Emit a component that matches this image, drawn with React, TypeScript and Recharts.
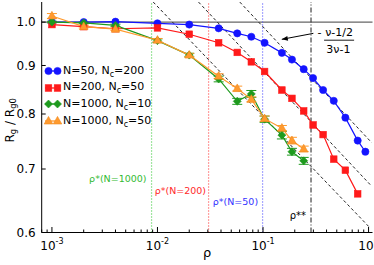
import React from 'react';
import {
  ComposedChart,
  Line,
  XAxis,
  YAxis,
  ReferenceLine,
  ReferenceDot,
  ErrorBar,
  Legend,
  Label,
} from 'recharts';

const FONT = '"DejaVu Sans", sans-serif';

// ---------- data ----------
const RHO_BLUE = [0.001, 0.002, 0.004, 0.01, 0.02, 0.038, 0.057, 0.0775, 0.1035, 0.151, 0.188, 0.243, 0.298, 0.371, 0.468, 0.603, 0.789, 0.933];
const RG_BLUE = [1.0, 1.0, 1.001, 0.997, 0.994, 0.985, 0.973, 0.965, 0.951, 0.928, 0.913, 0.892, 0.873, 0.848, 0.826, 0.793, 0.75, 0.73];

const RHO_RED = [0.001, 0.002, 0.004, 0.01, 0.02, 0.038, 0.057, 0.0775, 0.1035, 0.151, 0.188, 0.243, 0.298, 0.371, 0.468, 0.603, 0.789];
const RG_RED = [0.994, 0.989, 0.984, 0.986, 0.971, 0.951, 0.929, 0.908, 0.887, 0.848, 0.831, 0.806, 0.779, 0.761, 0.717, 0.698, 0.659];

const RHO_GREEN = [0.001, 0.002, 0.004, 0.01, 0.02, 0.038, 0.057, 0.0775, 0.1035, 0.151, 0.188, 0.243];
const RG_GREEN = [1.0, 0.998, 0.992, 0.956, 0.923, 0.871, 0.825, 0.84, 0.79, 0.76, 0.73, 0.714];
const ERR_GREEN = [0.002, 0.002, 0.003, 0.004, 0.004, 0.006, 0.006, 0.007, 0.006, 0.007, 0.006, 0.006];

const RHO_ORANGE = [0.001, 0.002, 0.004, 0.01, 0.02, 0.038, 0.057, 0.0775, 0.1035, 0.151, 0.188, 0.243];
const RG_ORANGE = [1.015, 0.989, 0.983, 0.957, 0.923, 0.877, 0.851, 0.829, 0.791, 0.773, 0.75, 0.735];
const ERR_ORANGE = [0.006, 0.003, 0.003, 0.004, 0.004, 0.005, 0.005, 0.005, 0.005, 0.005, 0.006, 0.005];

// crossover densities (vertical markers)
const RHO_STAR_1000 = 0.00879;
const RHO_STAR_200 = 0.0305;
const RHO_STAR_50 = 0.0991;
const RHO_STARSTAR = 0.285;

// power-law guide lines  (slope -(nu-1/2)/(3nu-1))
const GUIDE_A = [{ x: 0.00912, y: 1.0498 }, { x: 1.04, y: 0.6063 }];
const GUIDE_B = [{ x: 0.0245, y: 1.0498 }, { x: 1.07, y: 0.6714 }];
const GUIDE_C = [{ x: 0.0603, y: 1.0498 }, { x: 1.07, y: 0.7463 }];

// annotation anchors
const ARROW = [{ x: 0.3, y: 0.973 }, { x: 0.1507, y: 0.959 }];
const FRACTION_AT = { x: 0.526, y: 0.957 };

const X_DOMAIN = [0.0008, 1.09];
const Y_DOMAIN = [0.6, 1.05];
const X_DECADES = [0.0001, 0.001, 0.01, 0.1];
const MULTS = [1, 2, 3, 4, 5, 6, 7, 8, 9];
const Y_TICKS = [0.6, 0.7, 0.8, 0.9, 1.0];

const X_TICKS: number[] = [];
X_DECADES.forEach((d) =>
  MULTS.forEach((m) => {
    const v = +(d * m).toPrecision(6);
    if (v >= X_DOMAIN[0] && v <= X_DOMAIN[1]) X_TICKS.push(v);
  })
);
X_TICKS.push(1);

const mk = (xs: number[], ys: number[], es?: number[]) =>
  xs.map((x, i) => ({ x, y: ys[i], e: es ? es[i] : 0 }));

type Shape = 'circle' | 'square' | 'diamond' | 'triangle';

const SERIES: {
  key: string;
  pre: string;
  sub: string;
  post: string;
  color: string;
  edge: string;
  shape: Shape;
  data: { x: number; y: number; e: number }[];
  err: boolean;
}[] = [
  { key: 'b', pre: 'N=50, N', sub: 'c', post: '=200', color: '#1414ff', edge: '#1414ff', shape: 'circle', data: mk(RHO_BLUE, RG_BLUE), err: false },
  { key: 'r', pre: 'N=200, N', sub: 'c', post: '=50', color: '#ff1a1a', edge: '#ff1a1a', shape: 'square', data: mk(RHO_RED, RG_RED), err: false },
  { key: 'g', pre: 'N=1000, N', sub: 'c', post: '=10', color: '#1e9a1e', edge: '#1e9a1e', shape: 'diamond', data: mk(RHO_GREEN, RG_GREEN, ERR_GREEN), err: true },
  { key: 'o', pre: 'N=1000, N', sub: 'c', post: '=50', color: '#ff9a2e', edge: '#f08a1e', shape: 'triangle', data: mk(RHO_ORANGE, RG_ORANGE, ERR_ORANGE), err: true },
];

const marker = (shape: Shape, cx: number, cy: number, fill: string, edge: string) => {
  switch (shape) {
    case 'circle':
      return <circle cx={cx} cy={cy} r={3.6} fill={fill} stroke={edge} strokeWidth={0.6} />;
    case 'square':
      return <rect x={cx - 3.3} y={cy - 3.3} width={6.6} height={6.6} fill={fill} stroke={edge} strokeWidth={0.6} />;
    case 'diamond':
      return (
        <polygon
          points={`${cx},${cy - 4} ${cx + 4},${cy} ${cx},${cy + 4} ${cx - 4},${cy}`}
          fill={fill}
          stroke={edge}
          strokeWidth={0.6}
        />
      );
    default:
      return (
        <polygon
          points={`${cx},${cy - 4.6} ${cx + 4.3},${cy + 3} ${cx - 4.3},${cy + 3}`}
          fill={fill}
          stroke={edge}
          strokeWidth={0.6}
        />
      );
  }
};

const isMajor = (v: number) => {
  const l = Math.log10(v);
  return Math.abs(l - Math.round(l)) < 1e-6;
};

const BottomTick = (props: any) => {
  const { x, y, payload } = props;
  const v = payload.value;
  const major = isMajor(v);
  const e = Math.round(Math.log10(v));
  return (
    <g>
      <line x1={x} x2={x} y1={y} y2={y - (major ? 5.5 : 3)} stroke="#000" strokeWidth={1} />
      {major && (
        <text x={x} y={y + 17.5} textAnchor="middle" fontSize={12} fontFamily={FONT} fill="#000">
          10
          <tspan dy={-6} fontSize={8}>
            {e === 0 ? '0' : `-${Math.abs(e)}`}
          </tspan>
        </text>
      )}
    </g>
  );
};

const TopTick = (props: any) => {
  const { x, y, payload } = props;
  const major = isMajor(payload.value);
  return <line x1={x} x2={x} y1={y} y2={y + (major ? 5.5 : 3)} stroke="#000" strokeWidth={1} />;
};

const LeftTick = (props: any) => {
  const { x, y, payload } = props;
  return (
    <g>
      <line x1={x} x2={x + 4} y1={y} y2={y} stroke="#000" strokeWidth={1} />
      <text x={x - 6} y={y + 4.4} textAnchor="end" fontSize={12} fontFamily={FONT} fill="#000">
        {Number(payload.value).toFixed(1)}
      </text>
    </g>
  );
};

const RightTick = (props: any) => {
  const { x, y } = props;
  return <line x1={x} x2={x - 4} y1={y} y2={y} stroke="#000" strokeWidth={1} />;
};

const textAt = (txt: string, color: string, size: number, dx: number) => (p: any) =>
  (
    <text x={p.cx + dx} y={p.cy} textAnchor="end" fontSize={size} fontFamily={FONT} fill={color}>
      {txt}
    </text>
  );

const Fraction = (p: any) => {
  const { cx, cy } = p;
  return (
    <g fontFamily={FONT} fill="#000">
      <text x={cx - 19.7} y={cy - 4.2} textAnchor="middle" fontSize={11}>
        -
      </text>
      <text x={cx} y={cy - 4.5} textAnchor="middle" fontSize={11}>
        ν-1/2
      </text>
      <line x1={cx - 15} x2={cx + 15} y1={cy} y2={cy} stroke="#000" strokeWidth={0.9} />
      <text x={cx - 0.7} y={cy + 12.5} textAnchor="middle" fontSize={11}>
        3ν-1
      </text>
    </g>
  );
};

const ArrowHead = (p: any) => {
  const { cx, cy } = p;
  const dx = 0.984;
  const dy = -0.178;
  const L = 6;
  const W = 2.4;
  const bx = cx + dx * L;
  const by = cy + dy * L;
  const px = -dy;
  const py = dx;
  return (
    <polygon
      points={`${cx},${cy} ${bx + px * W},${by + py * W} ${bx - px * W},${by - py * W}`}
      fill="#000"
    />
  );
};

const LegendContent = () => (
  <div style={{ fontFamily: FONT, fontSize: 11, color: '#000' }}>
    {SERIES.map((s) => (
      <div key={s.key} style={{ display: 'flex', alignItems: 'center', height: 16.67, lineHeight: '16.67px', whiteSpace: 'nowrap' }}>
        <svg width={20} height={16} style={{ display: 'block' }}>
          <line x1={2} x2={17} y1={8} y2={8} stroke={s.color} strokeWidth={1.3} />
          {marker(s.shape, 5.5, 8, s.color, s.edge)}
          {marker(s.shape, 14.5, 8, s.color, s.edge)}
        </svg>
        <span>
          {s.pre}
          <sub style={{ fontSize: 8, verticalAlign: -3, lineHeight: 0 }}>{s.sub}</sub>
          {s.post}
        </span>
      </div>
    ))}
  </div>
);

const YLab = (p: any) => {
  const vb = p.viewBox || { x: 0, y: 0, width: 0, height: 0 };
  const cx = vb.x + 10;
  const cy = vb.y + vb.height / 2 + 3;
  return (
    <text
      x={cx}
      y={cy}
      transform={`rotate(-90 ${cx} ${cy})`}
      textAnchor="middle"
      fontSize={12}
      fontFamily={FONT}
      fill="#000"
      dominantBaseline="middle"
    >
      R<tspan dy={3} fontSize={8.5}>g</tspan>
      <tspan dy={-3}> / R</tspan>
      <tspan dy={3} fontSize={8.5}>g0</tspan>
    </text>
  );
};

const XLab = (p: any) => {
  const vb = p.viewBox || { x: 0, y: 0, width: 0, height: 0 };
  return (
    <text x={vb.x + vb.width / 2} y={vb.y + 24} textAnchor="middle" fontSize={13} fontFamily={FONT} fill="#000">
      ρ
    </text>
  );
};

export default function App() {
  return (
    <div style={{ position: 'absolute', left: 0, top: 0, width: 374, height: 265, background: '#fff' }}>
      <ComposedChart width={374} height={265} margin={{ top: 2, right: 1.5, bottom: 12.5, left: 0 }}>
        <XAxis
          type="number"
          dataKey="x"
          scale="log"
          domain={X_DOMAIN}
          allowDataOverflow
          ticks={X_TICKS}
          interval={0}
          tick={<BottomTick />}
          tickLine={false}
          tickSize={0}
          tickMargin={0}
          axisLine={{ stroke: '#000', strokeWidth: 1 }}
          height={20}
        >
          <Label content={<XLab />} />
        </XAxis>
        <XAxis
          xAxisId="top"
          orientation="top"
          type="number"
          dataKey="x"
          scale="log"
          domain={X_DOMAIN}
          allowDataOverflow
          ticks={X_TICKS}
          interval={0}
          tick={<TopTick />}
          tickLine={false}
          tickSize={0}
          tickMargin={0}
          axisLine={{ stroke: '#000', strokeWidth: 1 }}
          height={0}
        />
        <YAxis
          type="number"
          dataKey="y"
          scale="log"
          domain={Y_DOMAIN}
          allowDataOverflow
          ticks={Y_TICKS}
          interval={0}
          tick={<LeftTick />}
          tickLine={false}
          tickSize={0}
          tickMargin={0}
          axisLine={{ stroke: '#000', strokeWidth: 1 }}
          width={41.7}
        >
          <Label content={<YLab />} />
        </YAxis>
        <YAxis
          yAxisId="right"
          orientation="right"
          type="number"
          dataKey="y"
          scale="log"
          domain={Y_DOMAIN}
          allowDataOverflow
          ticks={Y_TICKS}
          interval={0}
          tick={<RightTick />}
          tickLine={false}
          tickSize={0}
          tickMargin={0}
          axisLine={{ stroke: '#000', strokeWidth: 1 }}
          width={0}
        />

        <ReferenceLine y={1} stroke="#666" strokeWidth={1.2} ifOverflow="visible" />
        <ReferenceLine x={RHO_STAR_1000} stroke="#44cc44" strokeWidth={1.2} strokeDasharray="1 2" ifOverflow="visible" />
        <ReferenceLine x={RHO_STAR_200} stroke="#ff4444" strokeWidth={1.2} strokeDasharray="1 2" ifOverflow="visible" />
        <ReferenceLine x={RHO_STAR_50} stroke="#5555ff" strokeWidth={1.2} strokeDasharray="1 2" ifOverflow="visible" />
        <ReferenceLine x={RHO_STARSTAR} stroke="#333" strokeWidth={1.1} strokeDasharray="5 2 1 2" ifOverflow="visible" />

        <ReferenceLine segment={GUIDE_A} stroke="#222" strokeWidth={1} strokeDasharray="3 2.5" ifOverflow="visible" />
        <ReferenceLine segment={GUIDE_B} stroke="#222" strokeWidth={1} strokeDasharray="3 2.5" ifOverflow="visible" />
        <ReferenceLine segment={GUIDE_C} stroke="#222" strokeWidth={1} strokeDasharray="3 2.5" ifOverflow="visible" />

        <ReferenceLine segment={ARROW} stroke="#000" strokeWidth={1} ifOverflow="visible" />
        <ReferenceDot x={ARROW[1].x} y={ARROW[1].y} r={0} shape={ArrowHead} ifOverflow="visible" />
        <ReferenceDot x={FRACTION_AT.x} y={FRACTION_AT.y} r={0} shape={Fraction} ifOverflow="visible" />

        <ReferenceDot x={RHO_STAR_1000} y={0.679} r={0} shape={textAt('ρ*(N=1000)', '#33bb33', 9.5, -5)} ifOverflow="visible" />
        <ReferenceDot x={RHO_STAR_200} y={0.658} r={0} shape={textAt('ρ*(N=200)', '#ff2a2a', 9.5, -2.5)} ifOverflow="visible" />
        <ReferenceDot x={RHO_STAR_50} y={0.641} r={0} shape={textAt('ρ*(N=50)', '#3333ff', 9.5, -4.5)} ifOverflow="visible" />
        <ReferenceDot x={RHO_STARSTAR} y={0.62} r={0} shape={textAt('ρ**', '#000', 10, -5)} ifOverflow="visible" />

        {SERIES.map((s) => (
          <Line
            key={s.key}
            data={s.data}
            dataKey="y"
            type="linear"
            stroke={s.color}
            strokeWidth={1.2}
            isAnimationActive={false}
            dot={(p: any) => <g key={`${s.key}-${p.index}`}>{marker(s.shape, p.cx, p.cy, s.color, s.edge)}</g>}
            activeDot={false}
            legendType="none"
          >
            {s.err && <ErrorBar dataKey="e" width={5} stroke={s.color} strokeWidth={1} direction="y" />}
          </Line>
        ))}

        <Legend
          layout="vertical"
          align="center"
          verticalAlign="middle"
          content={<LegendContent />}
          wrapperStyle={{ left: 43, top: 62.7, width: 140, height: 70 }}
        />
      </ComposedChart>
    </div>
  );
}
